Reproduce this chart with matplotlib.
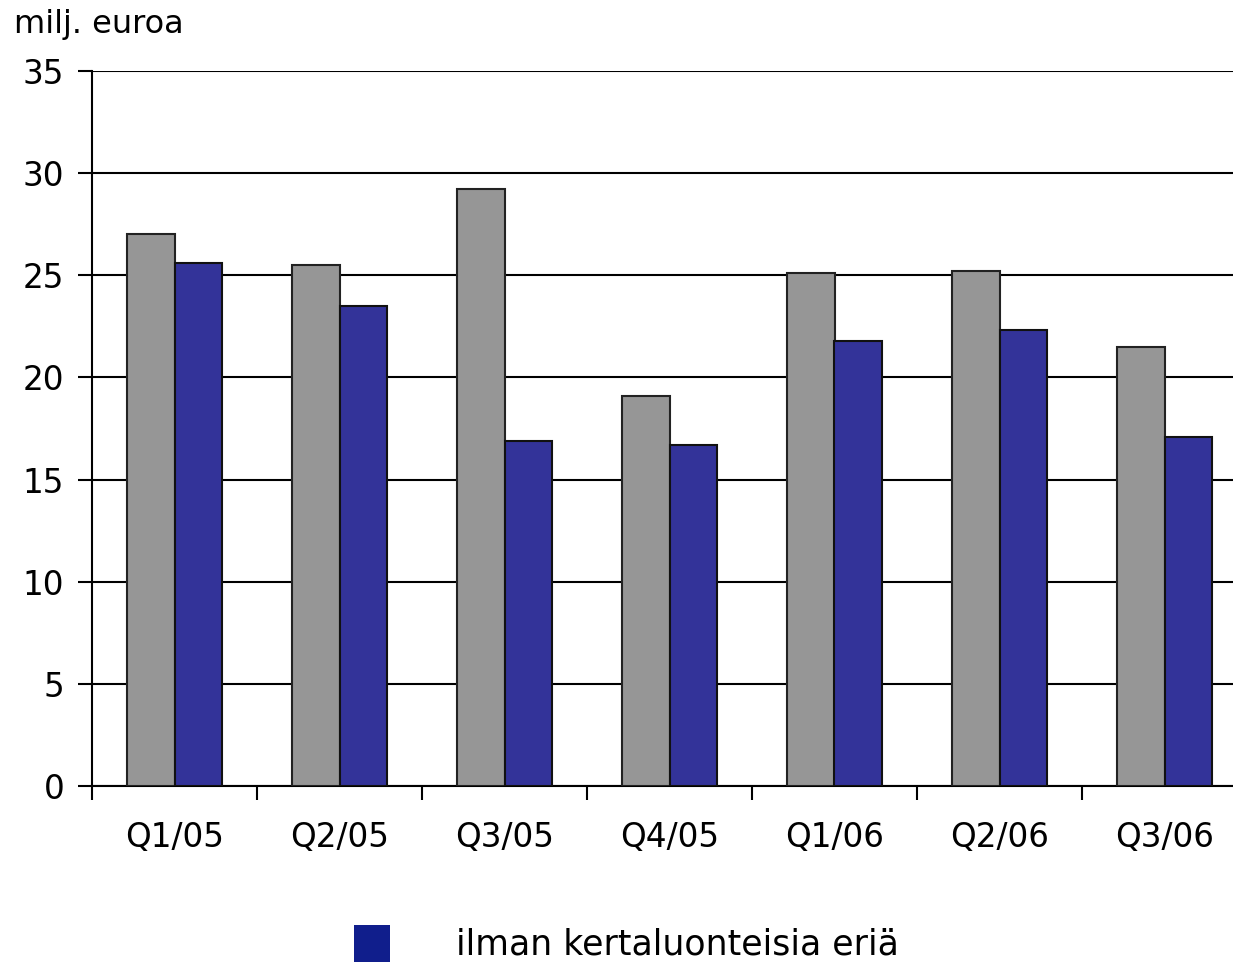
import numpy as np
import matplotlib.pyplot as plt
from matplotlib.patches import Patch

# data
quarters = ["Q1/05", "Q2/05", "Q3/05", "Q4/05", "Q1/06", "Q2/06", "Q3/06"]
reported = [27.0, 25.5, 29.2, 19.1, 25.1, 25.2, 21.5]
excl_items = [25.6, 23.5, 16.9, 16.7, 21.8, 22.3, 17.1]
legend_label = "ilman kertaluonteisia eriä"

GRAY = "#969696"
BLUE = "#333399"

plt.rcParams["font.family"] = "DejaVu Sans"

fig = plt.figure(figsize=(12.33, 9.63), dpi=100)
# axes runs past the right edge of the picture, like the original crop
ax = fig.add_axes([92 / 1233, 177 / 963, 1155 / 1233, 715 / 963])

x = np.arange(len(quarters))
w = 0.29
ax.bar(x - w / 2, reported, width=w, color=GRAY, edgecolor="#222222", linewidth=1.5, zorder=3)
ax.bar(x + w / 2, excl_items, width=w, color=BLUE, edgecolor="#111111", linewidth=1.5, zorder=3)

ax.set_ylim(0, 35)
ax.set_xlim(-0.5, len(quarters) - 0.5)
ax.set_yticks(np.arange(0, 36, 5))
ax.yaxis.grid(True, color="black", linewidth=1.5)
ax.set_axisbelow(True)

# category labels centred, ticks on the boundaries
ax.set_xticks(x)
ax.set_xticklabels(quarters)
ax.set_xticks(np.arange(-0.5, len(quarters), 1), minor=True)
ax.tick_params(axis="x", which="major", length=0, pad=25, labelsize=23.5)
ax.tick_params(axis="x", which="minor", length=10, width=1.5, direction="out")
ax.tick_params(axis="y", length=10, width=1.5, direction="out", pad=10, labelsize=23.5)

for s in ["top", "right"]:
    ax.spines[s].set_visible(False)
ax.spines["left"].set_linewidth(1.5)
ax.spines["bottom"].set_linewidth(1.5)

fig.text(14 / 1233, 1 - 33 / 963, "milj. euroa", fontsize=23, va="baseline", ha="left")

# legend near the bottom edge, text kept fully inside the picture
fig.legend(handles=[Patch(facecolor="#101e8c", edgecolor="none", label=legend_label)],
           loc="upper left", bbox_to_anchor=(340 / 1233, 1 - 911 / 963),
           frameon=False, fontsize=25, handlelength=1.05, handleheight=1.25,
           handletextpad=1.9, borderaxespad=0)

fig.savefig("out.png", dpi=100)
